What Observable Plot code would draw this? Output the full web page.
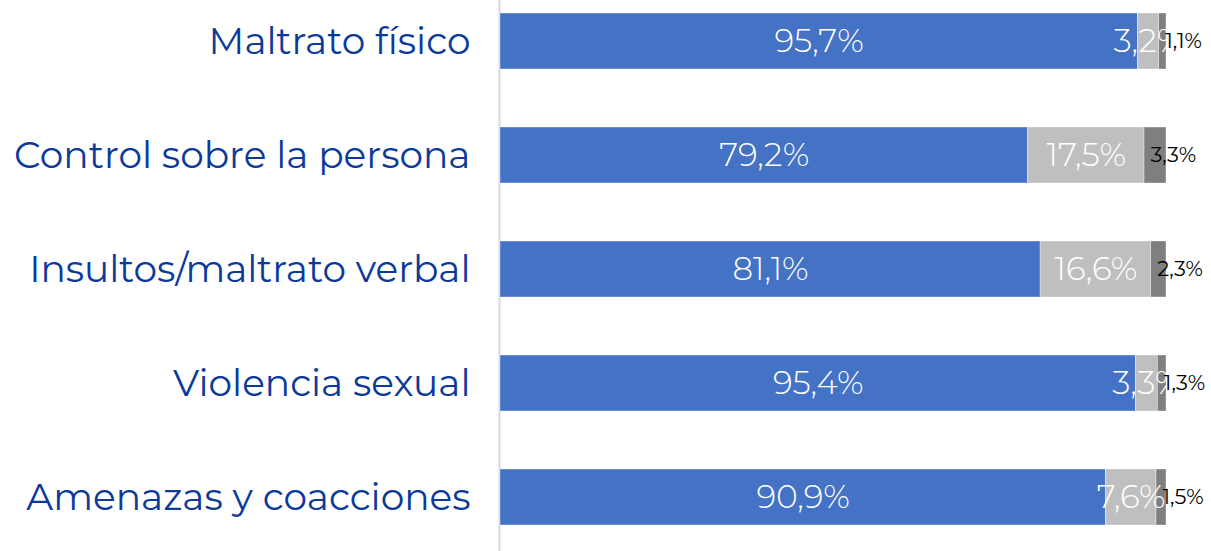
<!DOCTYPE html>
<html>
<head>
<meta charset="utf-8">
<script src="https://cdn.jsdelivr.net/npm/d3@7"></script>
<script src="https://cdn.jsdelivr.net/npm/@observablehq/plot@0.6"></script>
<style>
  html, body { margin: 0; padding: 0; background: #ffffff; }
  #chart { width: 1211px; height: 551px; overflow: hidden; }
</style>
</head>
<body>
<div id="chart"></div>
<script>
const categories = [
  "Maltrato físico",
  "Control sobre la persona",
  "Insultos/maltrato verbal",
  "Violencia sexual",
  "Amenazas y coacciones"
];
const seriesNames = ["Serie 1", "Serie 2", "Serie 3"];
const serie1 = [95.7, 79.2, 81.1, 95.4, 90.9];
const serie2 = [3.2, 17.5, 16.6, 3.3, 7.6];
const serie3 = [1.1, 3.3, 2.3, 1.3, 1.5];
const seriesColors = ["#4472C4", "#BFBFBF", "#7F7F7F"];

const allSeries = [serie1, serie2, serie3];
const rows = [];
categories.forEach((cat, i) => {
  let start = 0;
  allSeries.forEach((s, k) => {
    rows.push({cat, serie: seriesNames[k], value: s[i], start, end: start + s[i], k});
    start += s[i];
  });
});
const fmt = v => v.toFixed(1).replace(".", ",") + "%";
const font = "Montserrat, 'Open Sans', Lato, sans-serif";

const chart = Plot.plot({
  width: 1211,
  height: 551,
  marginLeft: 500,
  marginRight: 45,
  marginTop: 0,
  marginBottom: 0,
  style: {fontFamily: font, background: "#ffffff"},
  x: {domain: [0, 100], axis: null},
  y: {domain: categories, paddingInner: 0.51, paddingOuter: 0.161, align: 0.325, label: null},
  color: {domain: seriesNames, range: seriesColors},
  marks: [
    Plot.ruleX([0], {stroke: "#d9d9d9", strokeWidth: 2, dx: -1}),
    Plot.barX(rows, {x1: "start", x2: "end", y: "cat", fill: "serie", stroke: "#ffffff", strokeWidth: 0.6, strokeOpacity: 0.6}),
    Plot.text(rows.filter(d => d.k < 2), {
      x: d => (d.start + d.end) / 2, y: "cat", text: d => fmt(d.value),
      fill: "#ffffff", fontSize: 32.5, fontWeight: 300
    }),
    Plot.text(rows.filter(d => d.k === 2), {
      x: "start", y: "cat", text: d => fmt(d.value),
      fill: "#000000", fontSize: 21, fontWeight: 400, textAnchor: "start", dx: 6
    }),
    Plot.axisY({tickSize: 0, tickPadding: 30, fontSize: 37.5, fill: "#0B3A9A", fontWeight: 400, label: null})
  ]
});
document.getElementById("chart").appendChild(chart);
</script>
</body>
</html>
